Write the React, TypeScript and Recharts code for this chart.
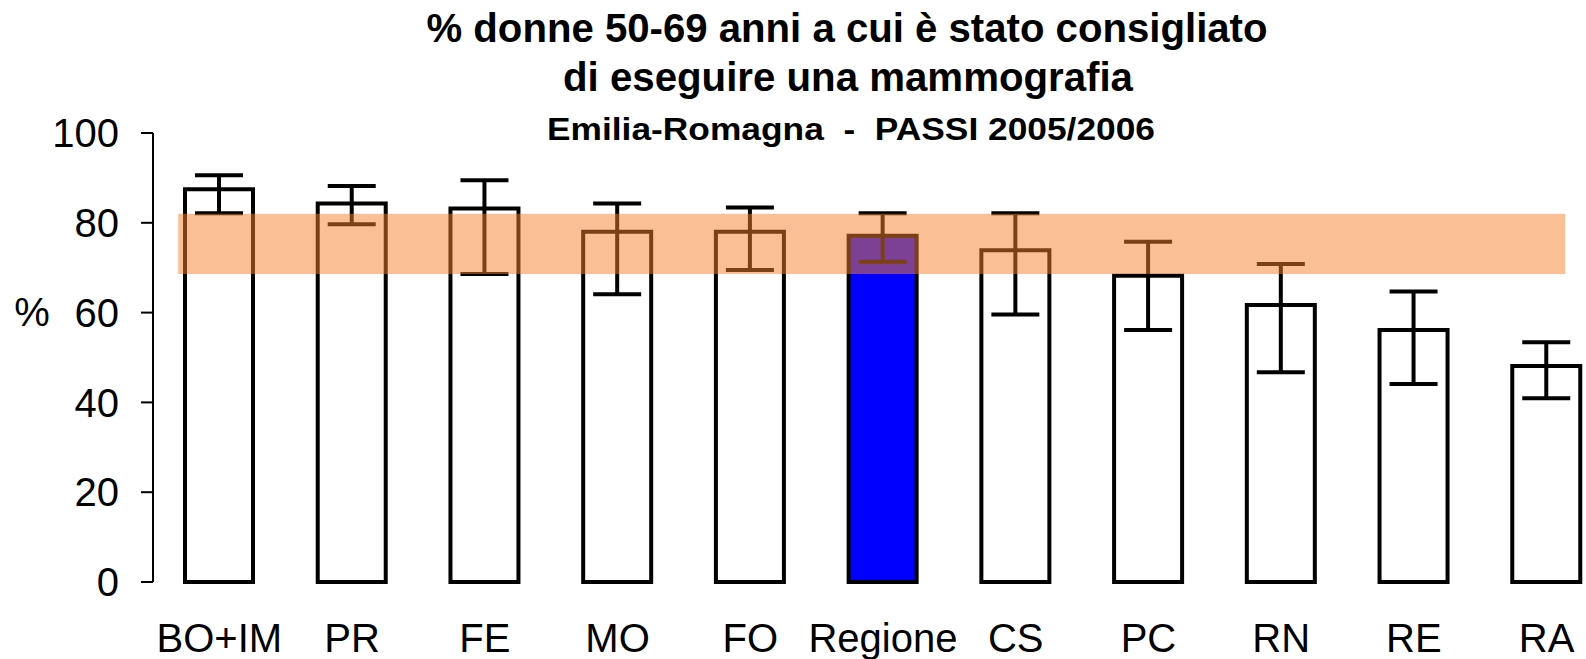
import React from 'react';
import { BarChart, Bar, XAxis, YAxis, ErrorBar, Cell, ReferenceArea } from 'recharts';

const categories = ['BO+IM', 'PR', 'FE', 'MO', 'FO', 'Regione', 'CS', 'PC', 'RN', 'RE', 'RA'];
const values = [87.5, 84.3, 83.2, 78, 78, 77.1, 73.9, 68.2, 61.7, 56.1, 48.1];
const ciLow = [82.1, 79.7, 68.6, 64.1, 69.5, 71.3, 59.6, 56.1, 46.7, 44.1, 40.9];
const ciHigh = [90.6, 88.2, 89.5, 84.3, 83.4, 82.1, 82.1, 75.8, 70.8, 64.7, 53.4];
const yTicks = [0, 20, 40, 60, 80, 100];

// regional confidence band drawn across the chart (x in category slots)
const bandLow = 68.6;
const bandHigh = 82;
const bandStart = 0.19;
const bandEnd = 10.64;

const highlight = 'Regione';
const font = '"Liberation Sans", Arial, sans-serif';

const data = categories.map((name, i) => ({
    name,
    pos: i + 0.5,
    value: values[i],
    err: [values[i] - ciLow[i], ciHigh[i] - values[i]],
}));

const App: React.FC = () => {
    return (
        <div style={{ position: 'absolute', top: 0, left: 0, width: 1586, height: 659, overflow: 'hidden', background: '#fff' }}>
            <BarChart
                width={1613}
                height={659}
                data={data}
                margin={{ top: 133, right: 0, bottom: 0, left: 0 }}
                style={{ fontFamily: font }}
            >
                <XAxis
                    dataKey="name"
                    height={77}
                    axisLine={false}
                    tickLine={false}
                    tickSize={0}
                    tickMargin={42}
                    interval={0}
                    tick={{ fill: '#000', fontSize: 40, fontFamily: font }}
                />
                <XAxis
                    xAxisId="band"
                    dataKey="pos"
                    type="number"
                    domain={[0, categories.length]}
                    allowDataOverflow
                    hide
                />
                <YAxis
                    width={153}
                    domain={[0, 100]}
                    ticks={yTicks}
                    interval={0}
                    tickSize={12}
                    tickMargin={22}
                    axisLine={{ stroke: '#000', strokeWidth: 2 }}
                    tickLine={{ stroke: '#000', strokeWidth: 2 }}
                    tick={{ fill: '#000', fontSize: 40, fontFamily: font }}
                />
                <Bar dataKey="value" barSize={68} stroke="#000" strokeWidth={4} isAnimationActive={false}>
                    {data.map((d) => (
                        <Cell key={d.name} fill={d.name === highlight ? '#0000ff' : '#ffffff'} />
                    ))}
                    <ErrorBar dataKey="err" width={24} strokeWidth={4} stroke="#000" isAnimationActive={false} />
                </Bar>
                <ReferenceArea
                    xAxisId="band"
                    x1={bandStart}
                    x2={bandEnd}
                    y1={bandLow}
                    y2={bandHigh}
                    fill="#f8802c"
                    fillOpacity={0.5}
                    stroke="none"
                    ifOverflow="visible"
                    zIndex={1500}
                />
            </BarChart>
            <svg width={1586} height={659} style={{ position: 'absolute', top: 0, left: 0, pointerEvents: 'none' }}>
                <g fontFamily={font} fill="#000" textAnchor="middle">
                    <text x={847} y={42} fontSize={40} fontWeight="bold" textLength={841} lengthAdjust="spacingAndGlyphs">
                        % donne 50-69 anni a cui è stato consigliato
                    </text>
                    <text x={848} y={91} fontSize={40} fontWeight="bold" textLength={570} lengthAdjust="spacingAndGlyphs">
                        di eseguire una mammografia
                    </text>
                    <text x={851} y={140} fontSize={32} fontWeight="bold" textLength={608} lengthAdjust="spacingAndGlyphs" xmlSpace="preserve">
                        Emilia-Romagna  -  PASSI 2005/2006
                    </text>
                    <text x={32} y={326} fontSize={40}>%</text>
                </g>
            </svg>
        </div>
    );
};

export default App;
